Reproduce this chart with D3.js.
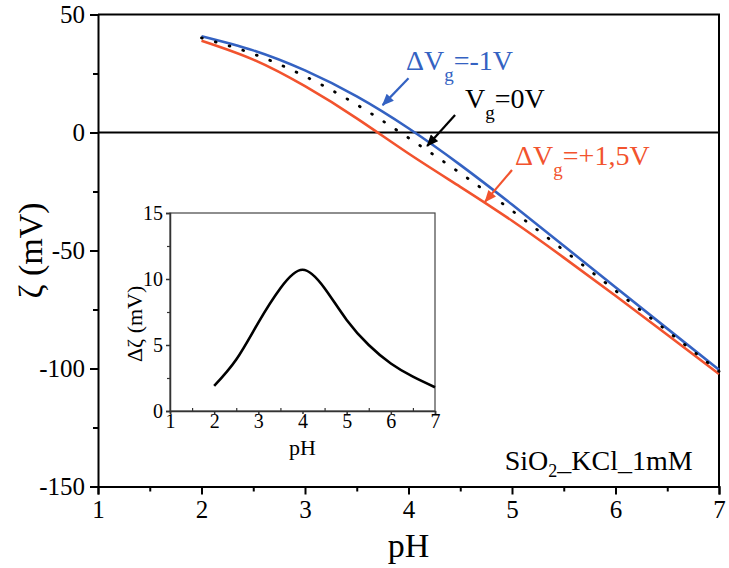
<!DOCTYPE html>
<html><head><meta charset="utf-8">
<script src="https://cdn.jsdelivr.net/npm/d3@7"></script>
<style>body{margin:0;background:#fff}svg{display:block}text{font-family:"Liberation Serif","Times New Roman",serif}</style>
</head><body>
<script>
// ---- data ----
const pH = [2, 2.5, 3, 3.5, 4, 4.5, 5, 5.5, 6, 6.5, 7];
const zetaMinus1V = [40.8, 34.8, 26.3, 15.3, 1.8, -13.7, -30.5, -48.0, -65.6, -83.1, -100.5];
const zeta0V = [40.1, 33.3, 23.8, 11.8, -2.3, -17.2, -33.1, -49.9, -67.0, -84.1, -101.2];
const zetaPlus15V = [38.9, 30.9, 19.6, 6.0, -8.9, -23.0, -37.4, -53.0, -69.2, -85.7, -102.3];
const deltaZeta = [1.9, 3.9, 6.7, 9.3, 10.7, 9.3, 6.9, 5.0, 3.6, 2.6, 1.8];
const xTicks = [1, 2, 3, 4, 5, 6, 7];
const yTicks = [50, 0, -50, -100, -150];
const insetYTicks = [0, 5, 10, 15];

const FONT = '"Liberation Serif","Times New Roman",serif';
const W = 729, H = 568;
const svg = d3.select("body").append("svg").attr("width", W).attr("height", H)
  .attr("font-family", FONT);

const x = d3.scaleLinear().domain([1, 7]).range([98, 719]);
const y = d3.scaleLinear().domain([-150, 50]).range([486.5, 14.5]);

const blue = "#3462c2", red = "#f2532e";
const fmt = d => String(d);

function styleAxis(g, size, color, sw) {
  g.attr("font-family", FONT);
  g.select(".domain").attr("stroke", color).attr("stroke-width", sw);
  g.selectAll(".tick line").attr("stroke", color).attr("stroke-width", sw);
  g.selectAll("text").attr("font-size", size).attr("fill", "#000").attr("font-family", FONT);
}

// zero line
svg.append("line").attr("x1", x(1)).attr("x2", x(7)).attr("y1", y(0)).attr("y2", y(0))
  .attr("stroke", "#000").attr("stroke-width", 2);

// frame top/right
svg.append("path").attr("d", `M${x(1)},${y(50)}H${x(7)}V${y(-150)}`)
  .attr("fill", "none").attr("stroke", "#000").attr("stroke-width", 2);

// axes
const gx = svg.append("g").attr("transform", `translate(0,${y(-150)})`)
  .call(d3.axisBottom(x).tickValues(xTicks).tickFormat(fmt).tickSize(8).tickPadding(6));
styleAxis(gx, 25, "#000", 2);
svg.append("g").attr("transform", `translate(0,${y(-150)})`)
  .call(d3.axisBottom(x).tickValues(d3.range(1.5, 7, 1)).tickSize(5).tickFormat(""))
  .call(g => { g.select(".domain").remove(); g.selectAll("line").attr("stroke-width", 2); });

const gy = svg.append("g").attr("transform", `translate(${x(1)},0)`)
  .call(d3.axisLeft(y).tickValues(yTicks).tickFormat(fmt).tickSize(8).tickPadding(5));
styleAxis(gy, 25, "#000", 2);
svg.append("g").attr("transform", `translate(${x(1)},0)`)
  .call(d3.axisLeft(y).tickValues([25, -25, -75, -125]).tickSize(5).tickFormat(""))
  .call(g => { g.select(".domain").remove(); g.selectAll("line").attr("stroke-width", 2); });

// axis titles
svg.append("text").attr("x", (x(1) + x(7)) / 2).attr("y", 557).attr("text-anchor", "middle")
  .attr("font-size", 34).text("pH");
svg.append("text").attr("transform", `translate(42,${y(-50)}) rotate(-90)`).attr("text-anchor", "middle")
  .attr("font-size", 34).text("ζ (mV)");

// curves
const line = d3.line().x(d => x(d[0])).y(d => y(d[1])).curve(d3.curveNatural);
svg.append("path").attr("d", line(pH.map((p, i) => [p, zetaPlus15V[i]])))
  .attr("fill", "none").attr("stroke", red).attr("stroke-width", 2.6);
svg.append("path").attr("d", line(pH.map((p, i) => [p, zetaMinus1V[i]])))
  .attr("fill", "none").attr("stroke", blue).attr("stroke-width", 2.6);
svg.append("path").attr("d", line(pH.map((p, i) => [p, zeta0V[i]])))
  .attr("fill", "none").attr("stroke", "#000").attr("stroke-width", 2.8)
  .attr("stroke-dasharray", "0.8,13.6").attr("stroke-linecap", "round");

// arrows
const defs = svg.append("defs");
[["ab", blue], ["ak", "#000"], ["ar", red]].forEach(([id, c]) => {
  defs.append("marker").attr("id", id).attr("markerUnits", "userSpaceOnUse")
    .attr("viewBox", "0 0 12 10").attr("refX", 11).attr("refY", 5)
    .attr("markerWidth", 13).attr("markerHeight", 10).attr("orient", "auto")
    .append("path").attr("d", "M0,0L12,5L0,10Z").attr("fill", c);
});
const arrows = [
  { from: [4.0, 23], to: [3.75, 11.6], c: blue, m: "ab" },
  { from: [4.45, 7.4], to: [4.18, -5.7], c: "#000", m: "ak" },
  { from: [5.0, -15.9], to: [4.74, -29.3], c: red, m: "ar" }
];
arrows.forEach(a => {
  svg.append("line").attr("x1", x(a.from[0])).attr("y1", y(a.from[1]))
    .attr("x2", x(a.to[0])).attr("y2", y(a.to[1]))
    .attr("stroke", a.c).attr("stroke-width", 2.2).attr("marker-end", `url(#${a.m})`);
});

// labels with subscripts
const labels = [
  { at: [3.976, 26.5], pre: "ΔV", sub: "g", post: "=-1V", c: blue },
  { at: [4.546, 10.4], pre: "V", sub: "g", post: "=0V", c: "#000" },
  { at: [5.03, -13.8], pre: "ΔV", sub: "g", post: "=+1,5V", c: red }
];
labels.forEach(l => {
  const t = svg.append("text").attr("x", x(l.at[0])).attr("y", y(l.at[1]))
    .attr("font-size", 28).attr("fill", l.c);
  t.append("tspan").text(l.pre);
  t.append("tspan").attr("dy", 11).attr("font-size", 19).text(l.sub);
  t.append("tspan").attr("dy", -11).text(l.post);
});
const st = svg.append("text").attr("x", x(4.93)).attr("y", y(-143)).attr("font-size", 28);
st.append("tspan").text("SiO");
st.append("tspan").attr("dy", 7).attr("font-size", 18).text("2");
st.append("tspan").attr("dy", -7).text("_KCl_1mM");

// ---- inset ----
const ix = d3.scaleLinear().domain([1, 7]).range([170, 435]);
const iy = d3.scaleLinear().domain([0, 15]).range([411, 213]);
const ins = svg.append("g");
ins.append("rect").attr("x", ix(1)).attr("y", iy(15)).attr("width", ix(7) - ix(1)).attr("height", iy(0) - iy(15))
  .attr("fill", "none").attr("stroke", "#444").attr("stroke-width", 1.2);
const igx = ins.append("g").attr("transform", `translate(0,${iy(0)})`)
  .call(d3.axisBottom(ix).tickValues(xTicks).tickFormat(fmt).tickSize(3).tickPadding(0));
styleAxis(igx, 20, "#333", 1.5);
ins.append("g").attr("transform", `translate(0,${iy(0)})`)
  .call(d3.axisTop(ix).tickValues(d3.range(1.5, 7, 1)).tickSize(3).tickFormat(""))
  .call(g => { g.select(".domain").remove(); g.selectAll("line").attr("stroke", "#333").attr("stroke-width", 1.2); });
const igy = ins.append("g").attr("transform", `translate(${ix(1)},0)`)
  .call(d3.axisLeft(iy).tickValues(insetYTicks).tickFormat(fmt).tickSize(4).tickPadding(3));
styleAxis(igy, 20, "#333", 1.5);
ins.append("g").attr("transform", `translate(${ix(1)},0)`)
  .call(d3.axisLeft(iy).tickValues([2.5, 7.5, 12.5]).tickSize(3).tickFormat(""))
  .call(g => { g.select(".domain").remove(); g.selectAll("line").attr("stroke", "#333").attr("stroke-width", 1.2); });
ins.append("text").attr("x", (ix(1) + ix(7)) / 2).attr("y", 455).attr("text-anchor", "middle")
  .attr("font-size", 22).text("pH");
ins.append("text").attr("transform", `translate(142,${iy(6.6)}) rotate(-90)`).attr("text-anchor", "middle")
  .attr("font-size", 22).text("Δζ (mV)");
const iline = d3.line().x(d => ix(d[0])).y(d => iy(d[1])).curve(d3.curveNatural);
ins.append("path").attr("d", iline(pH.map((p, i) => [p, deltaZeta[i]])))
  .attr("fill", "none").attr("stroke", "#000").attr("stroke-width", 2.6);
</script>
</body></html>
